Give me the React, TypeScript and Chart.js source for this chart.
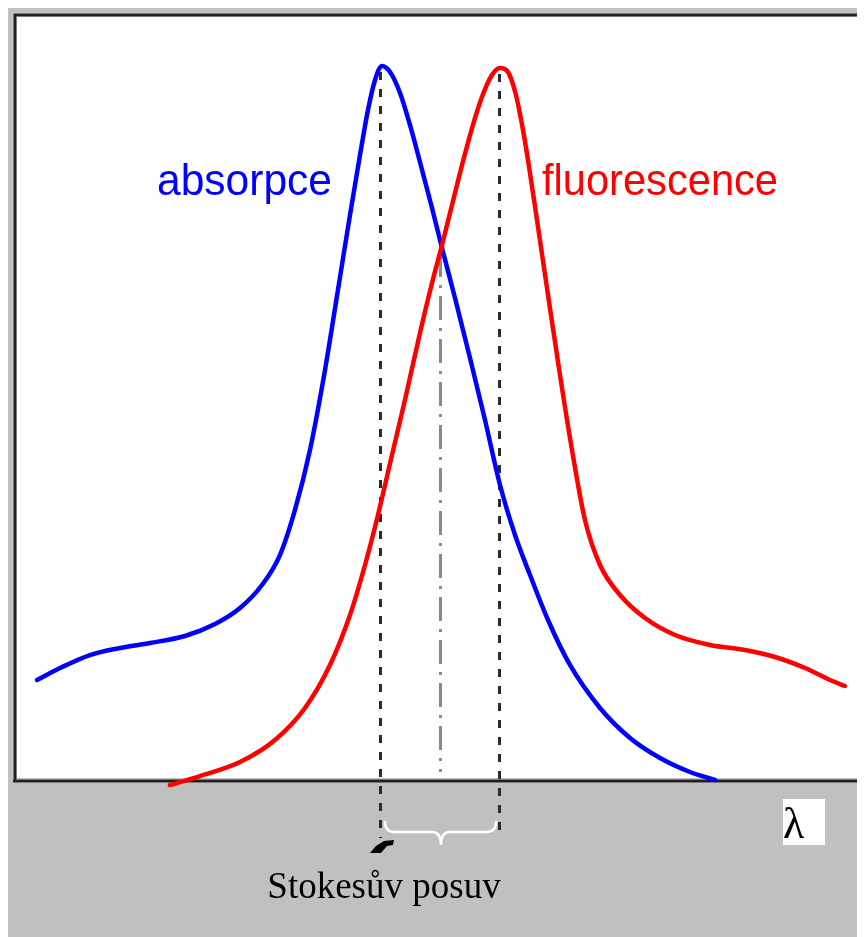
import { useEffect, useRef } from 'react';
import { Chart, registerables } from 'chart.js';

Chart.register(...registerables);

// x: relative wavelength (0–100 across the plot), y: relative intensity (0–100)
const absorptionX = [2.36, 5.07, 8.61, 12.15, 15.68, 19.81, 23.35, 26.3, 28.89, 31.01, 32.78, 34.55, 36.32, 37.85, 39.27, 40.45, 41.39, 42.22, 43.04, 43.99, 45.17, 46.34, 47.52, 48.94, 50.12, 51.65, 53.42, 55.19, 56.96, 58.73, 60.5, 62.62, 65.21, 68.75, 72.29, 75.83, 79.36, 82.31];
const absorptionY = [12.88, 14.45, 16.16, 17.08, 17.74, 18.66, 20.24, 22.34, 25.36, 29.3, 35.22, 43.1, 53.61, 64.13, 73.98, 81.87, 87.78, 91.72, 93.56, 92.77, 90.01, 85.81, 80.95, 74.9, 69.65, 63.07, 55.19, 47.04, 38.5, 31.93, 26.68, 20.76, 14.85, 9.2, 5.26, 2.63, 0.79, -0.26];

const fluorescenceX = [18.04, 21.58, 26.3, 30.42, 33.96, 36.91, 39.27, 41.04, 42.57, 44.22, 45.75, 47.52, 48.94, 50.12, 51.3, 52.48, 53.66, 54.83, 56.01, 56.96, 57.9, 58.84, 59.67, 60.26, 61.32, 62.62, 64.03, 65.45, 66.98, 68.75, 71.11, 74.06, 77.59, 81.72, 85.85, 89.39, 92.92, 95.87, 97.64];
const fluorescenceY = [-0.92, 0.26, 2.1, 4.99, 9.2, 14.85, 21.42, 27.99, 34.56, 42.44, 49.67, 58.48, 65.05, 70.04, 75.3, 80.55, 85.41, 89.49, 92.38, 93.3, 92.77, 89.75, 85.15, 81.21, 73.32, 63.47, 52.96, 43.1, 33.9, 27.99, 24.05, 21.02, 18.79, 17.48, 16.82, 15.9, 14.45, 12.88, 12.09];

const seriesNames = ['absorpce', 'fluorescence'];
const shiftLabel = 'Stokesův posuv';
const axisSymbol = 'λ';
const crossingIntensity = 69;

export default function App() {
  const ref = useRef<HTMLCanvasElement>(null);

  useEffect(() => {
    document.body.style.overflow = 'hidden';
    const canvas = ref.current!;
    const toPts = (xs: number[], ys: number[]) => xs.map((x, i) => ({ x, y: ys[i] }));
    const peakIdx = (ys: number[]) => ys.indexOf(Math.max(...ys));
    const absPeak = peakIdx(absorptionY);
    const fluPeak = peakIdx(fluorescenceY);

    const drawFitted = (ctx: CanvasRenderingContext2D, text: string, x: number, y: number, w: number) => {
      const m = ctx.measureText(text).width;
      ctx.save();
      ctx.translate(x, y);
      ctx.scale(w / m, 1);
      ctx.fillText(text, 0, 0);
      ctx.restore();
    };

    const deco = {
      id: 'deco',
      beforeDraw(chart: any) {
        const { ctx, chartArea: a, width, height } = chart;
        ctx.save();
        ctx.fillStyle = '#c0c0c0';
        ctx.fillRect(0, 0, width, height);
        ctx.fillStyle = '#ffffff';
        ctx.fillRect(a.left, a.top, a.right - a.left, a.bottom - a.top);
        ctx.restore();
      },
      beforeDatasetsDraw(chart: any) {
        const { ctx, chartArea: a, width, scales } = chart;
        const sx = scales.x, sy = scales.y;
        ctx.save();
        const framePath = () => {
          ctx.beginPath();
          ctx.moveTo(a.left - 2, a.bottom + 3);
          ctx.lineTo(a.left - 2, a.top - 2);
          ctx.lineTo(width, a.top - 2);
          ctx.moveTo(a.left - 4, a.bottom + 3);
          ctx.lineTo(width, a.bottom + 3);
        };
        framePath();
        ctx.strokeStyle = '#7a7a7a';
        ctx.lineWidth = 4;
        ctx.stroke();
        framePath();
        ctx.strokeStyle = '#202020';
        ctx.lineWidth = 2;
        ctx.stroke();

        const xl = Math.round(sx.getPixelForValue(absorptionX[absPeak])) - 1.5;
        const xr = Math.round(sx.getPixelForValue(fluorescenceX[fluPeak])) - 0.5;
        ctx.setLineDash([8, 9]);
        ctx.strokeStyle = '#2a2a2a';
        ctx.lineWidth = 3;
        ctx.beginPath();
        ctx.moveTo(xl, sy.getPixelForValue(absorptionY[absPeak]) + 6);
        ctx.lineTo(xl, a.bottom + 60);
        ctx.moveTo(xr, sy.getPixelForValue(fluorescenceY[fluPeak]) + 6);
        ctx.lineTo(xr, a.bottom + 57);
        ctx.stroke();

        const xm = Math.round((xl + xr) / 2) + 0.5;
        ctx.setLineDash([24, 8, 3, 8]);
        ctx.strokeStyle = '#8a8a8a';
        ctx.lineWidth = 3;
        ctx.beginPath();
        ctx.moveTo(xm, sy.getPixelForValue(crossingIntensity));
        ctx.lineTo(xm, a.bottom - 6);
        ctx.stroke();
        ctx.restore();
      },
      afterDraw(chart: any) {
        const { ctx, chartArea: a, scales } = chart;
        const sx = scales.x;
        const xl = sx.getPixelForValue(absorptionX[absPeak]);
        const xr = sx.getPixelForValue(fluorescenceX[fluPeak]);
        const xm = (xl + xr) / 2;
        ctx.save();
        const L = xl + 3, R = xr - 4, top = a.bottom + 44, mid = a.bottom + 54, tip = a.bottom + 67;
        ctx.strokeStyle = '#ffffff';
        ctx.lineWidth = 2.5;
        ctx.lineCap = 'round';
        ctx.beginPath();
        ctx.moveTo(L, top);
        ctx.quadraticCurveTo(L, mid, L + 10, mid);
        ctx.lineTo(xm - 9, mid);
        ctx.quadraticCurveTo(xm, mid, xm, tip);
        ctx.quadraticCurveTo(xm, mid, xm + 9, mid);
        ctx.lineTo(R - 10, mid);
        ctx.quadraticCurveTo(R, mid, R, top);
        ctx.stroke();

        ctx.fillStyle = '#000000';
        ctx.beginPath();
        ctx.moveTo(xl - 12, a.bottom + 75);
        ctx.lineTo(xl - 6, a.bottom + 68);
        ctx.lineTo(xl + 2, a.bottom + 63);
        ctx.lineTo(xl + 12, a.bottom + 62);
        ctx.lineTo(xl + 11, a.bottom + 67);
        ctx.lineTo(xl + 5, a.bottom + 68);
        ctx.lineTo(xl - 1, a.bottom + 75);
        ctx.closePath();
        ctx.fill();

        ctx.font = '37px "Liberation Serif", "Times New Roman", serif';
        ctx.textAlign = 'center';
        ctx.textBaseline = 'alphabetic';
        ctx.fillText(shiftLabel, xl + 2, a.bottom + 120);

        ctx.fillStyle = '#ffffff';
        ctx.fillRect(775, a.bottom + 21, 42, 46);
        ctx.fillStyle = '#000000';
        ctx.textAlign = 'left';
        ctx.font = '44px "Liberation Serif", "Times New Roman", serif';
        ctx.fillText(axisSymbol, 775, a.bottom + 60);

        ctx.font = '44px "Liberation Sans", Arial, sans-serif';
        ctx.fillStyle = '#0000ff';
        drawFitted(ctx, seriesNames[0], 149, 187, 175);
        ctx.fillStyle = '#ff0000';
        drawFitted(ctx, seriesNames[1], 534, 187, 236);
        ctx.restore();
      },
    };

    const common = {
      borderWidth: 4.5,
      pointRadius: 0,
      cubicInterpolationMode: 'monotone' as const,
      clip: false as any,
      borderCapStyle: 'round' as const,
      borderJoinStyle: 'round' as const,
      fill: false,
    };

    const chart = new Chart(canvas, {
      type: 'line',
      data: {
        datasets: [
          { label: seriesNames[1], data: toPts(fluorescenceX, fluorescenceY), borderColor: '#ff0000', ...common },
          { label: seriesNames[0], data: toPts(absorptionX, absorptionY), borderColor: '#0000ff', ...common },
        ],
      },
      options: {
        responsive: false,
        animation: false,
        parsing: false as any,
        layout: { padding: { left: 9, top: 9, right: 0, bottom: 159 } },
        scales: {
          x: { type: 'linear', min: 0, max: 100, display: false },
          y: { type: 'linear', min: 0, max: 100, display: false },
        },
        plugins: { legend: { display: false }, tooltip: { enabled: false } },
      },
      plugins: [deco],
    });
    return () => chart.destroy();
  }, []);

  return <canvas ref={ref} width={857} height={929} style={{ display: 'block' }} />;
}
